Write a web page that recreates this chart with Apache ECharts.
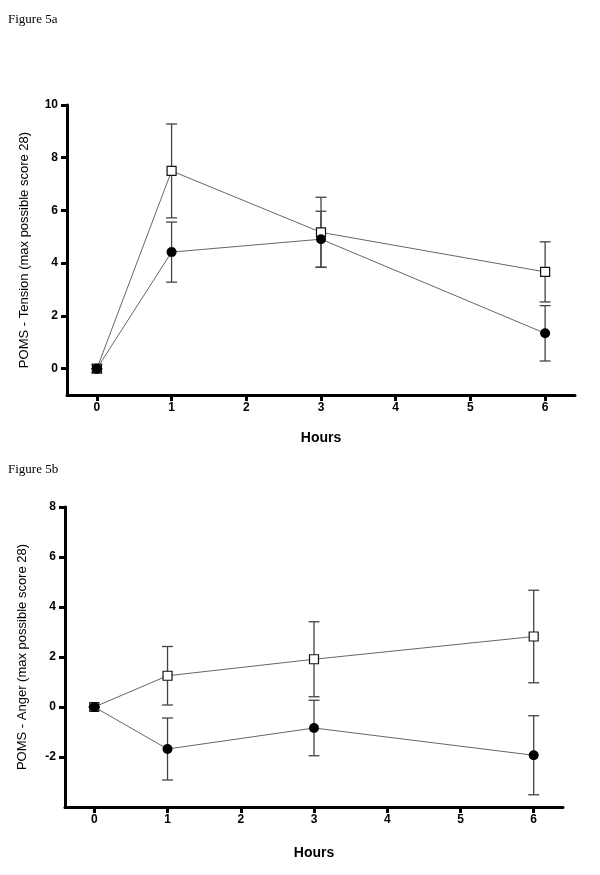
<!DOCTYPE html>
<html>
<head>
<meta charset="utf-8">
<script src="https://cdn.jsdelivr.net/npm/echarts@6/dist/echarts.min.js"></script>
<style>
html,body{margin:0;padding:0;background:#fff;}
#chart{width:600px;height:875px;}
</style>
</head>
<body>
<div id="chart"></div>
<script>
// ---- data ----
var hours = [0, 1, 3, 6];
var xTicks = [0, 1, 2, 3, 4, 5, 6];

var tensionTicks = [0, 2, 4, 6, 8, 10];
var tensionSquare = [0, 7.5, 5.17, 3.67];
var tensionSquareErr = [0.15, 1.78, 1.33, 1.14];
var tensionCircle = [0, 4.42, 4.91, 1.34];
var tensionCircleErr = [0, 1.14, 1.06, 1.05];

var angerTicks = [-2, 0, 2, 4, 6, 8];
var angerSquare = [0, 1.25, 1.91, 2.82];
var angerSquareErr = [0, 1.17, 1.5, 1.85];
var angerCircle = [0, -1.68, -0.84, -1.93];
var angerCircleErr = [0, 1.24, 1.11, 1.58];

// ---- helpers ----
function pts(vals) { return hours.map(function (h, i) { return [h, vals[i]]; }); }
function errs(vals, e) { return hours.map(function (h, i) { return [h, vals[i] - e[i], vals[i] + e[i]]; }); }

function errorSeries(data, axisIdx) {
  return {
    type: 'custom',
    xAxisIndex: axisIdx, yAxisIndex: axisIdx,
    z: 1,
    silent: true,
    data: data,
    renderItem: function (params, api) {
      var x = api.value(0);
      var lo = api.coord([x, api.value(1)]);
      var hi = api.coord([x, api.value(2)]);
      var w = 5.5;
      var st = { stroke: '#444', lineWidth: 1.3 };
      return {
        type: 'group',
        children: [
          { type: 'line', shape: { x1: hi[0], y1: hi[1], x2: lo[0], y2: lo[1] }, style: st },
          { type: 'line', shape: { x1: hi[0] - w, y1: hi[1], x2: hi[0] + w, y2: hi[1] }, style: st },
          { type: 'line', shape: { x1: lo[0] - w, y1: lo[1], x2: lo[0] + w, y2: lo[1] }, style: st }
        ]
      };
    }
  };
}

function lineSeries(vals, axisIdx, square) {
  return {
    type: 'line',
    xAxisIndex: axisIdx, yAxisIndex: axisIdx,
    z: square ? 3 : 4,
    data: pts(vals),
    symbol: square ? 'rect' : 'circle',
    symbolSize: square ? 9 : 10,
    lineStyle: { color: '#666', width: 1 },
    itemStyle: square ? { color: '#fff', borderColor: '#111', borderWidth: 1.2 } : { color: '#000', borderWidth: 0 },
    animation: false,
    silent: true
  };
}

var axisLineStyle = { color: '#000', width: 3 };
var tickLabel = { color: '#000', fontFamily: 'Liberation Sans, Arial, sans-serif', fontWeight: 'bold', fontSize: 12 };

function xAxis(gridIdx, gap) {
  return {
    type: 'value', gridIndex: gridIdx,
    min: -0.4, max: 6.4,
    splitLine: { show: false },
    axisLine: { onZero: false, lineStyle: axisLineStyle },
    axisTick: { length: 6, lineStyle: { color: '#000', width: 3 }, customValues: xTicks },
    axisLabel: Object.assign({ margin: 7, customValues: xTicks }, tickLabel),
    name: 'Hours', nameLocation: 'middle', nameGap: gap,
    nameTextStyle: { color: '#000', fontFamily: 'Liberation Sans, Arial, sans-serif', fontWeight: 'bold', fontSize: 14 }
  };
}
function yAxis(gridIdx, min, max, ticks, name, gap) {
  return {
    type: 'value', gridIndex: gridIdx,
    min: min, max: max,
    splitLine: { show: false },
    axisLine: { onZero: false, lineStyle: axisLineStyle },
    axisTick: { length: 6, lineStyle: { color: '#000', width: 3 }, customValues: ticks },
    axisLabel: Object.assign({ margin: 9, customValues: ticks }, tickLabel),
    name: name, nameLocation: 'middle', nameGap: gap,
    nameTextStyle: { color: '#000', fontFamily: 'Liberation Sans, Arial, sans-serif', fontSize: 13 }
  };
}

var chart = echarts.init(document.getElementById('chart'), null, { renderer: 'canvas' });
chart.setOption({
  backgroundColor: '#fff',
  animation: false,
  title: [
    { text: 'Figure 5a', left: 3, top: 8, textStyle: { fontFamily: 'Liberation Serif, Times New Roman, serif', fontWeight: 'normal', fontSize: 13, color: '#000' } },
    { text: 'Figure 5b', left: 3, top: 458, textStyle: { fontFamily: 'Liberation Serif, Times New Roman, serif', fontWeight: 'normal', fontSize: 13, color: '#000' } }
  ],
  grid: [
    { left: 67, top: 105, width: 508, height: 290 },
    { left: 65, top: 507, width: 498, height: 300 }
  ],
  xAxis: [xAxis(0, 36), xAxis(1, 39)],
  yAxis: [
    yAxis(0, -1, 10, tensionTicks, 'POMS - Tension (max possible score 28)', 36),
    yAxis(1, -4, 8, angerTicks, 'POMS - Anger (max possible score 28)', 36)
  ],
  series: [
    errorSeries(errs(tensionSquare, tensionSquareErr), 0),
    errorSeries(errs(tensionCircle, tensionCircleErr), 0),
    lineSeries(tensionSquare, 0, true),
    lineSeries(tensionCircle, 0, false),
    errorSeries(errs(angerSquare, angerSquareErr), 1),
    errorSeries(errs(angerCircle, angerCircleErr), 1),
    lineSeries(angerSquare, 1, true),
    lineSeries(angerCircle, 1, false)
  ]
});
</script>
</body>
</html>
